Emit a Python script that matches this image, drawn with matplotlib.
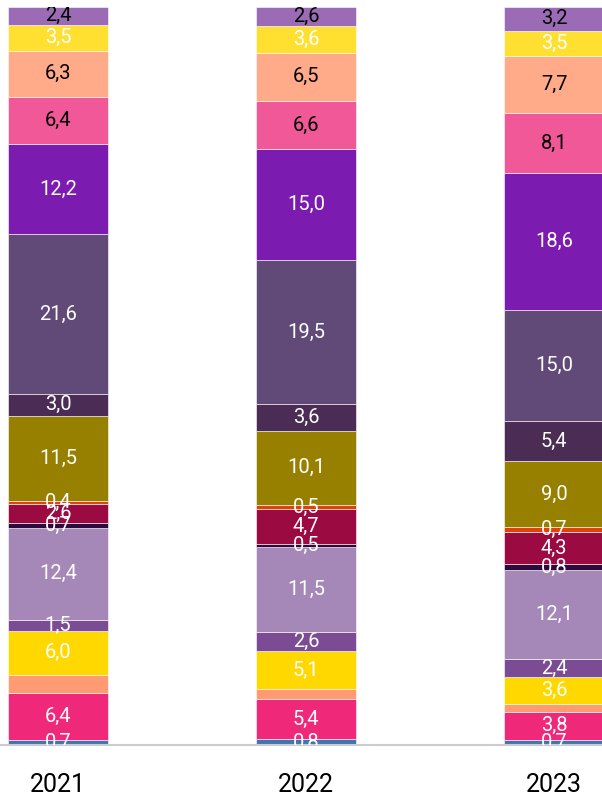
import matplotlib
matplotlib.use("Agg")
import matplotlib.pyplot as plt
import numpy as np

plt.rcParams['font.family'] = ['Roboto', 'DejaVu Sans']

years = ["2021", "2022", "2023"]

# segments bottom -> top
seg_blue      = [0.7, 0.8, 0.7]
seg_hotpink   = [6.4, 5.4, 3.8]
seg_salmon    = [2.4, 1.4, 1.1]
seg_yellow    = [6.0, 5.1, 3.6]
seg_purple    = [1.5, 2.6, 2.4]
seg_lavender  = [12.4, 11.5, 12.1]
seg_dark      = [0.7, 0.5, 0.8]
seg_crimson   = [2.6, 4.7, 4.3]
seg_orange    = [0.4, 0.5, 0.7]
seg_olive     = [11.5, 10.1, 9.0]
seg_darkpurp  = [3.0, 3.6, 5.4]
seg_greypurp  = [21.6, 19.5, 15.0]
seg_violet    = [12.2, 15.0, 18.6]
seg_pink      = [6.4, 6.6, 8.1]
seg_peach     = [6.3, 6.5, 7.7]
seg_yellow2   = [3.5, 3.6, 3.5]
seg_lilac     = [2.4, 2.6, 3.2]

series = [
    (seg_blue, "#3d77b0", "white", True),
    (seg_hotpink, "#f0287a", "white", True),
    (seg_salmon, "#ff9a72", "white", False),
    (seg_yellow, "#ffd800", "white", True),
    (seg_purple, "#7b4c94", "white", True),
    (seg_lavender, "#a688b8", "white", True),
    (seg_dark, "#2d0a3e", "white", True),
    (seg_crimson, "#9c0a42", "white", True),
    (seg_orange, "#e0420c", "white", True),
    (seg_olive, "#978000", "white", True),
    (seg_darkpurp, "#4a2c55", "white", True),
    (seg_greypurp, "#624a78", "white", True),
    (seg_violet, "#7b1bb0", "white", True),
    (seg_pink, "#f05898", "black", True),
    (seg_peach, "#ffaa88", "black", True),
    (seg_yellow2, "#ffdf30", "white", True),
    (seg_lilac, "#9b6bb5", "black", True),
]

fig = plt.figure(figsize=(6.02, 8.02), dpi=100)
ax = fig.add_axes([0, 57/802, 1, 738/802])

x = np.arange(len(years))
bottom = np.zeros(len(years))
for vals, col, tcol, show in series:
    vals = np.array(vals)
    ax.bar(x, vals, bottom=bottom, width=0.403, color=col,
           edgecolor="white", linewidth=0.4)
    if show:
        for xi, v, b in zip(x, vals, bottom):
            ax.text(xi, b + v / 2, f"{v:.1f}".replace(".", ","),
                    ha="center", va="center", color=tcol, fontsize=14.5,
                    clip_on=True)
    bottom += vals

ax.set_xlim(-58/248, (602-58)/248)
ax.set_ylim(0, 100)
for s in ["top", "right", "left"]:
    ax.spines[s].set_visible(False)
ax.spines["bottom"].set_color("#cccccc")
ax.spines["bottom"].set_linewidth(1.5)
ax.set_yticks([])
ax.set_xticks(x)
ax.set_xticklabels(years, fontsize=18, color="black")
ax.tick_params(axis="x", length=0, pad=20)

fig.savefig("out.png", dpi=100)
